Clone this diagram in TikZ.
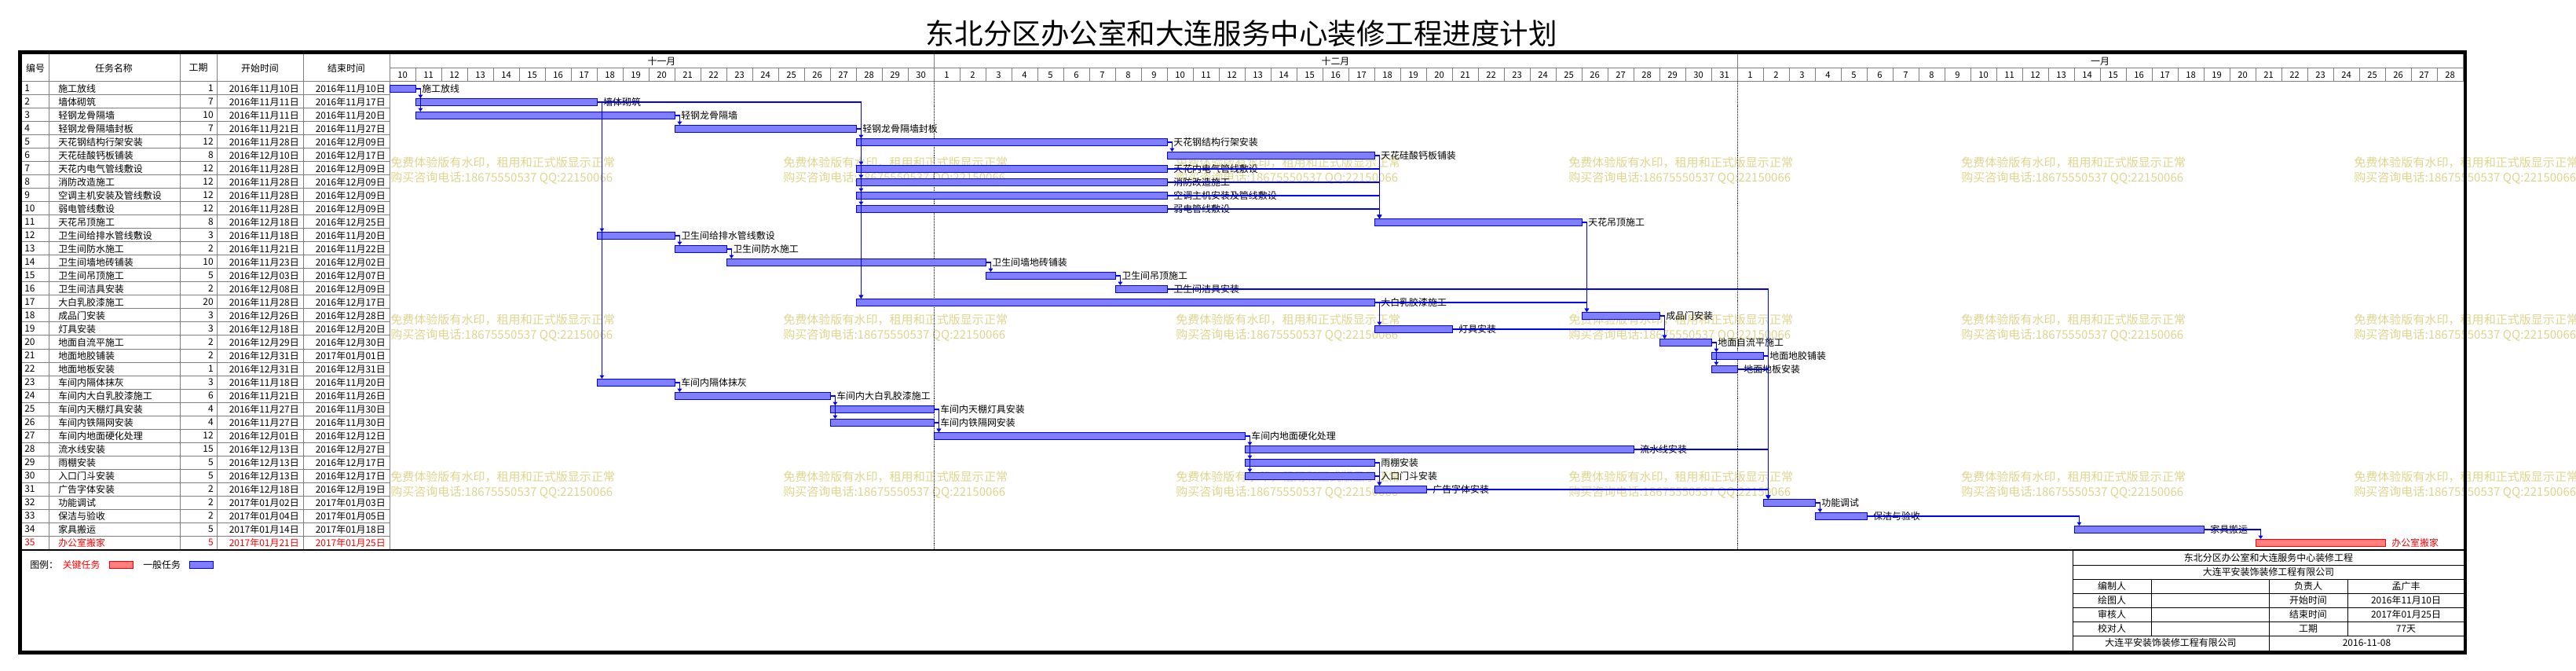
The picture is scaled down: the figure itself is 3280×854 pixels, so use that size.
\documentclass[tikz,border=0pt]{standalone}
\usepackage{fontspec}
\usepackage{tikz}
\usepackage{xcolor}
\usetikzlibrary{arrows.meta, positioning}
\setmainfont{Noto Sans CJK SC}
\definecolor{wmark}{RGB}{222,213,140}
\definecolor{gridgray}{RGB}{128,128,128}
\newcommand{\twod}[1]{\ifnum\numexpr#1\relax<10 0\fi\the\numexpr#1\relax}
\newcommand{\dstr}[1]{\ifnum#1<21 2016年11月\the\numexpr#1+10\relax 日\else\ifnum#1<52 2016年12月\twod{#1-20}日\else 2017年01月\twod{#1-51}日\fi\fi}

\begin{document}
\begin{tikzpicture}[x=0.25mm, y=-0.25mm, font=\fontsize{8.5pt}{10pt}\selectfont,
  cell/.style={inner sep=0},
  gline/.style={draw=gridgray, line width=0.25mm},
  bar/.style={draw=blue, fill=blue!50, line width=0.25mm, inner sep=0, minimum height=2.25mm, anchor=north west},
  crit/.style={draw=red, fill=red!50, line width=0.25mm, inner sep=0, minimum height=2.25mm, anchor=north west},
  tag/.style={anchor=west, inner sep=0, xshift=1.75mm},
  dep/.style={draw=blue, line width=0.3mm, -{Triangle[length=1.1mm, width=1.4mm]}},
  wm/.style={anchor=west, inner sep=0, align=left, text=wmark, font=\fontsize{10.7pt}{13.5pt}\selectfont}]

  \useasboundingbox (0,0) rectangle (3280,854);

  % trial watermark
  \foreach \wx in {497,997,...,2997}
    \foreach \wy in {217.5,417.5,617.5}
      \node[wm] (wm-\wx-\wy) at (\wx,\wy) {免费体验版有水印，租用和正式版显示正常\\购买咨询电话:18675550537 QQ:22150066};

  \node[font=\fontsize{26pt}{30pt}\selectfont] (title) at (1581,43) {东北分区办公室和大连服务中心装修工程进度计划};

  % table head
  \draw[gline] (27,104) -- (3136,104);
  \draw[gline] (496,87) -- (3136,87);
  \foreach \cx in {62,229,276,386,496} \draw[gline] (\cx,69) -- (\cx,699);
  \foreach \cx in {1189,2212,3136} \draw[gline] (\cx,69) -- (\cx,104);
  \foreach \r in {1,...,34} \draw[gline] (27,{104+17*\r}) -- (496,{104+17*\r});
  \node (h1) at (45,86.5) {编号};
  \node (h2) at (145,86.5) {任务名称};
  \node (h3) at (252.5,86.5) {工期};
  \node (h4) at (331,86.5) {开始时间};
  \node (h5) at (441,86.5) {结束时间};
  \node (m1) at (842.5,78) {十一月};
  \node (m2) at (1700.5,78) {十二月};
  \node (m3) at (2674,78) {一月};
  \foreach \d in {0,...,79}{
    \pgfmathtruncatemacro\dn{\d<21 ? \d+10 : (\d<52 ? \d-20 : \d-51)}
    \draw[gline] ({496+33*\d},87) -- ({496+33*\d},104);
    \node[font=\fontsize{8pt}{9pt}\selectfont] (day\d) at ({512.5+33*\d},95.5) {\dn};
  }
  \draw[densely dotted] (1189,104) -- (1189,699);
  \draw[densely dotted] (2212,104) -- (2212,699);

  % tasks: no / name / days / first day / last day
  \foreach \i/\task/\dur/\st/\en in {
    1/施工放线/1/0/0, 2/墙体砌筑/7/1/7, 3/轻钢龙骨隔墙/10/1/10,
    4/轻钢龙骨隔墙封板/7/11/17, 5/天花钢结构行架安装/12/18/29,
    6/天花硅酸钙板铺装/8/30/37, 7/天花内电气管线敷设/12/18/29,
    8/消防改造施工/12/18/29, 9/空调主机安装及管线敷设/12/18/29,
    10/弱电管线敷设/12/18/29, 11/天花吊顶施工/8/38/45,
    12/卫生间给排水管线敷设/3/8/10, 13/卫生间防水施工/2/11/12,
    14/卫生间墙地砖铺装/10/13/22, 15/卫生间吊顶施工/5/23/27,
    16/卫生间洁具安装/2/28/29, 17/大白乳胶漆施工/20/18/37,
    18/成品门安装/3/46/48, 19/灯具安装/3/38/40,
    20/地面自流平施工/2/49/50, 21/地面地胶铺装/2/51/52,
    22/地面地板安装/1/51/51, 23/车间内隔体抹灰/3/8/10,
    24/车间内大白乳胶漆施工/6/11/16, 25/车间内天棚灯具安装/4/17/20,
    26/车间内铁隔网安装/4/17/20, 27/车间内地面硬化处理/12/21/32,
    28/流水线安装/15/33/47, 29/雨棚安装/5/33/37,
    30/入口门斗安装/5/33/37, 31/广告字体安装/2/38/39,
    32/功能调试/2/53/54, 33/保洁与验收/2/55/56, 34/家具搬运/5/65/69}{
    \pgfmathsetmacro\ry{112.5+17*(\i-1)}
    \node[cell, anchor=west] (no\i) at (31,\ry) {\i};
    \node[cell, anchor=west] (tn\i) at (74,\ry) {\task};
    \node[cell, anchor=east] (du\i) at (272,\ry) {\dur};
    \node[cell, anchor=east] (sd\i) at (381,\ry) {\dstr{\st}};
    \node[cell, anchor=east] (ed\i) at (491,\ry) {\dstr{\en}};
    \node[bar, minimum width={(\en-\st+1)*8.25mm}] (b\i) at ({496+33*\st},{108+17*(\i-1)}) {};
    \node[tag] (l\i) at (b\i.east) {\task};
  }
  \begin{scope}[text=red]
    \node[cell, anchor=west] (no35) at (31,690.5) {35};
    \node[cell, anchor=west] (tn35) at (74,690.5) {办公室搬家};
    \node[cell, anchor=east] (du35) at (272,690.5) {5};
    \node[cell, anchor=east] (sd35) at (381,690.5) {\dstr{72}};
    \node[cell, anchor=east] (ed35) at (491,690.5) {\dstr{76}};
    \node[crit, minimum width=41.25mm] (b35) at (2872,686) {};
    \node[tag] (l35) at (b35.east) {办公室搬家};
  \end{scope}

  % links
  \foreach \p/\q in {1/2,1/3,2/12,2/23,2/17,3/4,4/5,4/7,4/8,4/9,4/10,4/17,
      5/6,6/11,7/11,8/11,9/11,10/11,11/18,12/13,13/14,14/15,15/16,16/32,
      17/18,17/19,18/20,19/20,20/21,20/22,21/32,22/32,23/24,24/25,24/26,
      25/27,26/27,27/28,27/29,27/30,28/32,29/31,30/31,31/32,32/33,33/34,34/35}
    \draw[dep] (b\p.east) -| ([xshift=1.6mm]b\q.north west);

  % legend
  \node[cell, anchor=west] (lg) at (38,719) {图例：};
  \node[cell, anchor=west, text=red] (lgc) at (79.5,719) {关键任务};
  \node[crit, minimum width=7.5mm] (lgcb) at (139,714.3) {};
  \node[cell, anchor=west] (lgn) at (182,719) {一般任务};
  \node[bar, minimum width=7.5mm] (lgnb) at (241,714.3) {};

  % title block
  \foreach \ly in {719.3,737.3,755.3,773.3,791.3,809.3} \draw[line width=0.25mm] (2639,\ly) -- (3138,\ly);
  \draw[line width=0.25mm] (2639,700) -- (2639,830);
  \draw[line width=0.25mm] (2889,737.3) -- (2889,830);
  \foreach \lx in {2739,2989} \draw[line width=0.25mm] (\lx,737.3) -- (\lx,809.3);
  \node (i1) at (2888.5,710) {东北分区办公室和大连服务中心装修工程};
  \node (i2) at (2888.5,728.3) {大连平安装饰装修工程有限公司};
  \foreach \k/\lt/\rt/\rv in {0/编制人/负责人/孟广丰, 1/绘图人/开始时间/2016年11月10日,
      2/审核人/结束时间/2017年01月25日, 3/校对人/工期/77天}{
    \node (ia\k) at (2689,{746.3+18*\k}) {\lt};
    \node (ib\k) at (2939,{746.3+18*\k}) {\rt};
    \node (ic\k) at (3063.5,{746.3+18*\k}) {\rv};
  }
  \node (i7) at (2764,818) {大连平安装饰装修工程有限公司};
  \node (i8) at (3013.5,818) {2016-11-08};

  % frame
  \draw[line width=0.5mm] (27,699.5) -- (3137,699.5);
  \draw[line width=1.15mm] (25.3,66.6) rectangle (3139,830.5);
\end{tikzpicture}
\end{document}
